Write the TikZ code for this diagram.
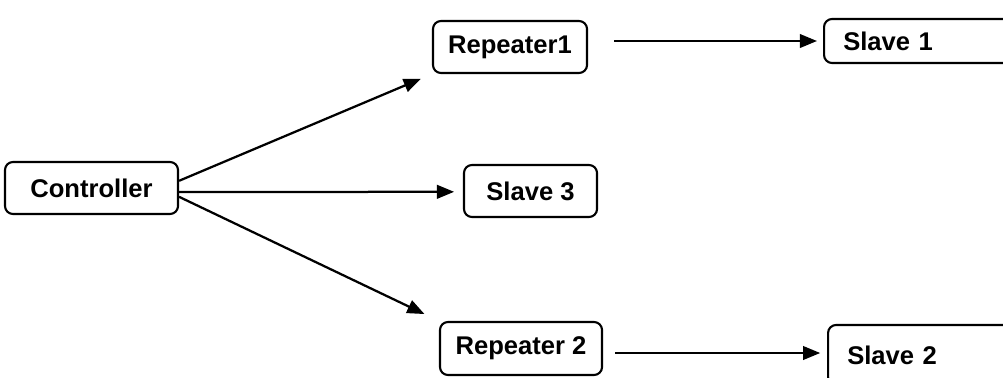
\documentclass[tikz,border=0pt]{standalone}
\usepackage{fontspec}
\setmainfont{Liberation Sans}
\usepackage{tikz}
\usetikzlibrary{arrows.meta, positioning, calc}

\begin{document}
\begin{tikzpicture}[
    x=0.025cm, y=-0.025cm,
    unitbox/.style={rectangle, draw, line width=1.5pt, rounded corners=0.2cm, minimum height=1.3cm, inner sep=0pt, font=\fontsize{18.2}{20}\selectfont\bfseries},
    edgebox/.style={unitbox, anchor=west, text width=4.5cm, align=left, inner xsep=0.48cm},
    arrow/.style={-{Triangle[length=4.3mm, width=3.4mm]}, line width=1.6pt}
  ]
    \useasboundingbox (0,0) rectangle (1003,377);
    \clip (0,0) rectangle (1003,377);

    % Controller on the left
    \node[unitbox, minimum width=4.325cm] (ctrl) at (91.5,188) {Controller};

    % Middle column
    \node[unitbox, minimum width=3.85cm] (rep1) at (510,47) {Repeater1};
    \node[unitbox, minimum width=3.325cm] (s3) at (530.5,191) {Slave 3};
    \node[unitbox, minimum width=4.05cm, minimum height=1.325cm] (rep2) at (521,348.5) {Repeater 2};

    % Slaves at the right edge (cut off)
    \node[edgebox, minimum height=1.1cm] (s1) at (823,41) {Slave 1};
    \node[edgebox, minimum height=1.5cm] (s2) at (827,355) {Slave 2};

    % Arrows from the controller
    \draw[arrow, shorten >=0.3cm] ([yshift=0.18cm]ctrl.east) -- (rep1.south west);
    \draw[arrow, shorten >=0.22cm] ([yshift=-0.1cm]ctrl.east) -- ([yshift=-0.02cm]s3.west);
    \draw[arrow, shorten >=0.4cm] ([yshift=-0.22cm]ctrl.east) -- (rep2.north west);

    % Arrows from the repeaters
    \draw[arrow, shorten <=0.65cm, shorten >=0.15cm] (rep1.east |- s1.west) -- (s1.west);
    \draw[arrow, shorten <=0.3cm, shorten >=0.17cm] ([yshift=0.05cm]rep2.east |- s2.west) -- ([yshift=0.05cm]s2.west);
\end{tikzpicture}
\end{document}
